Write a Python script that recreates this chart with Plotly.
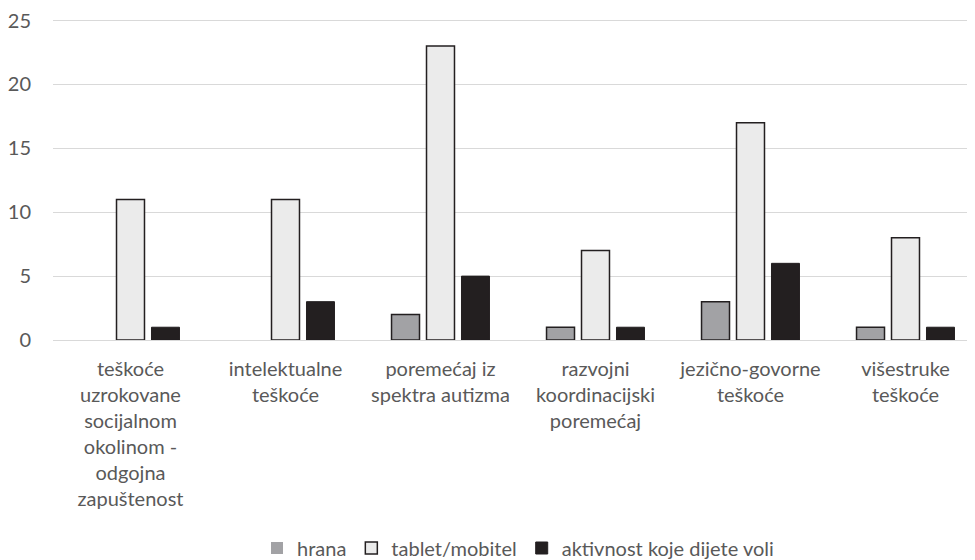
import plotly.graph_objects as go

categories = [
    "teškoće<br>uzrokovane<br>socijalnom<br>okolinom -<br>odgojna<br>zapuštenost",
    "intelektualne<br>teškoće",
    "poremećaj iz<br>spektra autizma",
    "razvojni<br>koordinacijski<br>poremećaj",
    "jezično-govorne<br>teškoće",
    "višestruke<br>teškoće",
]
hrana = [0, 0, 2, 1, 3, 1]
tablet = [11, 11, 23, 7, 17, 8]
aktivnost = [1, 3, 5, 1, 6, 1]
series_names = ["hrana", "tablet/mobitel", "aktivnost koje dijete voli"]

FONT = "Lato, Noto Sans, sans-serif"
TXT = "#595959"
EDGE = "#231f20"
FS = 20


def edge_widths(vals, w):
    return [w if v > 0 else 0 for v in vals]


fig = go.Figure()
fig.add_trace(go.Bar(x=list(range(6)), y=hrana, name=series_names[0],
                     marker=dict(color="#a2a2a5",
                                 line=dict(color=EDGE, width=edge_widths(hrana, 1.5)))))
fig.add_trace(go.Bar(x=list(range(6)), y=tablet, name=series_names[1],
                     marker=dict(color="#ebebeb",
                                 line=dict(color=EDGE, width=edge_widths(tablet, 1.5)))))
fig.add_trace(go.Bar(x=list(range(6)), y=aktivnost, name=series_names[2],
                     marker=dict(color=EDGE,
                                 line=dict(color=EDGE, width=edge_widths(aktivnost, 1)))))

fig.update_layout(
    width=975, height=560,
    margin=dict(l=45, r=0, t=9.5, b=228, autoexpand=False),
    paper_bgcolor="white", plot_bgcolor="white",
    barmode="group", bargap=0.323, bargroupgap=0.2,
    font=dict(family=FONT, size=FS, color=TXT),
    showlegend=True,
    legend=dict(orientation="h", x=0.5, xref="paper", xanchor="center",
                yref="container", y=20 / 560, yanchor="middle",
                font=dict(family=FONT, size=FS, color=TXT),
                itemwidth=30, traceorder="normal"),
)
fig.update_xaxes(
    tickmode="array", tickvals=list(range(6)), ticktext=categories,
    range=[-0.5, 5.5], showgrid=False, zeroline=False, automargin=False,
    showline=True, linecolor="#d9d9d9", linewidth=1, ticks="",
    tickfont=dict(family=FONT, size=FS, color=TXT), ticklabelstandoff=11,
)
fig.update_yaxes(
    range=[0, 25.2], tickmode="linear", tick0=0, dtick=5, automargin=False,
    showgrid=True, gridcolor="#d9d9d9", gridwidth=1, ticklabeloverflow="allow",
    zeroline=False, showline=False, ticks="",
    tickfont=dict(family=FONT, size=FS, color=TXT), ticklabelstandoff=21,
)

fig.write_html("out.html")
